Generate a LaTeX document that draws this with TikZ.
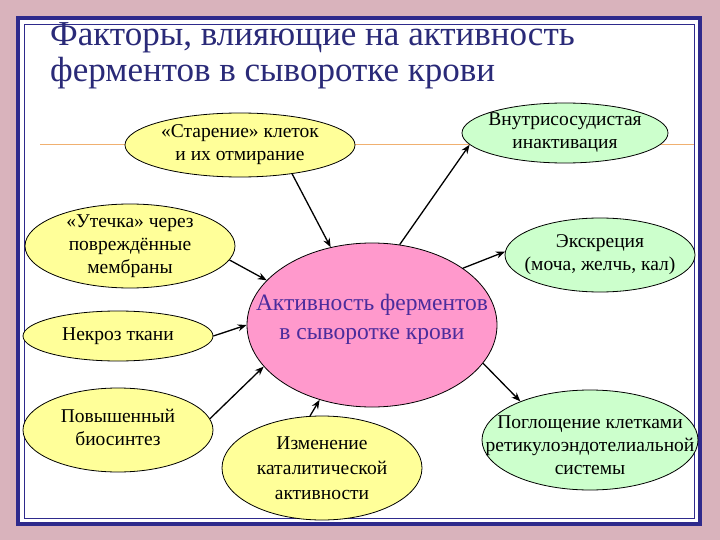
\documentclass[tikz,border=0pt]{standalone}
\usepackage{fontspec}
\setmainfont{Liberation Serif}
\usetikzlibrary{shapes.geometric,arrows.meta}
\definecolor{bgpink}{HTML}{D9B3BC}
\definecolor{frameblue}{HTML}{2E2A8C}
\definecolor{yel}{HTML}{FFFF99}
\definecolor{grn}{HTML}{CCFFCC}
\definecolor{pnk}{HTML}{FF99CC}
\definecolor{ttl}{HTML}{2A2A78}
\definecolor{ctr}{HTML}{4B2C9C}
\definecolor{orng}{HTML}{F0B070}
\tikzset{
 el/.style={ellipse,draw=black,line width=0.8pt,inner sep=0pt},
 yy/.style={el,fill=yel}, gg/.style={el,fill=grn},
 tx/.style={align=center,inner sep=0pt,font=\fontsize{19.5}{23}\selectfont},
 ar/.style={-{Stealth[length=9pt,width=7pt]},line width=1.3pt}
}
\begin{document}
\begin{tikzpicture}[x=1pt,y=-1pt]
\useasboundingbox (0,0) rectangle (720,540);
\fill[bgpink] (0,0) rectangle (720,540);
\fill[white] (18,18) rectangle (700,524);
\draw[frameblue,line width=4pt] (18,18) rectangle (700,524);
\draw[frameblue,line width=0.6pt] (24,24) rectangle (694,518);
\node[anchor=north west,align=left,text=ttl,font=\fontsize{35}{36}\selectfont,inner sep=0pt] (t) at (50,22) {Факторы, влияющие на активность\\ферментов в сыворотке крови};
\draw[orng,line width=1pt] (40,145) -- (694,145);
\node[yy,minimum width=230,minimum height=64] (s) at (240,145) {};
\node[tx] (st) at (s) {«Старение» клеток\\и их отмирание};
\node[gg,minimum width=206,minimum height=60] (v) at (565,133) {};
\node[tx] (vt) at (v) {Внутрисосудистая\\инактивация};
\node[yy,minimum width=210,minimum height=84] (u) at (130,246) {};
\node[tx] (ut) at (u) {«Утечка» через\\повреждённые\\мембраны};
\node[gg,minimum width=190,minimum height=74] (e) at (600,255) {};
\node[tx] (et) at (e) {Экскреция\\(моча, желчь, кал)};
\node[yy,minimum width=190,minimum height=50] (n) at (118,336) {};
\node[tx] (nt) at (n) {Некроз ткани};
\node[el,fill=pnk,minimum width=250,minimum height=164] (c) at (372,325) {};
\node[tx,text=ctr,font=\fontsize{23.5}{29}\selectfont] (ct) at ([yshift=6]c) {Активность ферментов\\в сыворотке крови};
\node[yy,minimum width=190,minimum height=84] (h) at (118,430) {};
\node[tx] (ht) at ([yshift=3]h) {Повышенный\\биосинтез};
\node[yy,minimum width=200,minimum height=104] (i) at (322,468) {};
\node[tx,font=\fontsize{19.5}{25}\selectfont] (it) at (i) {Изменение\\каталитической\\активности};
\node[gg,minimum width=216,minimum height=100] (p) at (590,440) {};
\node[tx] (pt) at ([yshift=-5]p) {Поглощение клетками\\ретикулоэндотелиальной\\системы};
\draw[ar] (s.-29) -- (c.118);
\draw[ar] (c.71) -- (v.187);
\draw[ar] (c.32) -- (e.178);
\draw[ar] (c.-19) -- (p.151);
\draw[ar] (i.103) -- (c.-125);
\draw[ar] (h.7) -- (c.-159);
\draw[ar] (n.0) -- (c.180);
\draw[ar] (u.-8) -- (c.157);
\end{tikzpicture}
\end{document}
